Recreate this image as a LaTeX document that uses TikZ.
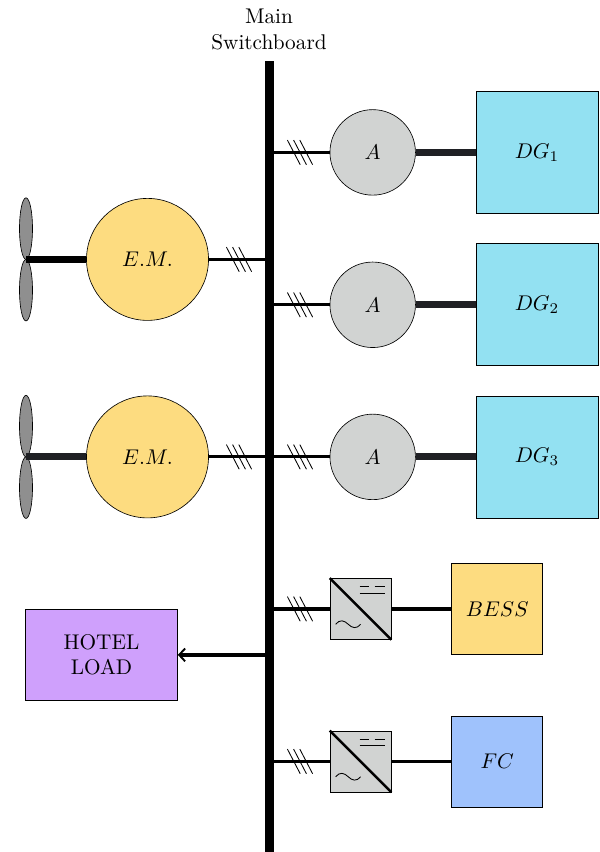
\documentclass[tikz,border=0pt]{standalone}
\usetikzlibrary{arrows.meta,shapes.geometric}
\definecolor{emyellow}{HTML}{FDDC80}
\definecolor{gengray}{HTML}{D1D3D2}
\definecolor{dgcyan}{HTML}{93E1F2}
\definecolor{hotel}{HTML}{CFA0FC}
\definecolor{fcblue}{HTML}{9FC2FC}
\definecolor{propgray}{HTML}{8F8F8F}
\definecolor{shaft}{HTML}{1F2024}
\newcommand{\hatchmark}[1]{%
  \foreach \d in {-6.2,0,6.2}
    \draw[hatchline] ([xshift={(\d-6.4)*0.47pt},yshift=12.3*0.47pt]#1) -- ([xshift={(\d+6.4)*0.47pt},yshift=-12.3*0.47pt]#1);}
\newcommand{\convsym}[1]{%
  \draw[line width=1.2pt] (#1.north west) -- (#1.south east);
  \draw[hatchline] ([xshift=30*0.47pt,yshift=-8.5*0.47pt]#1.north west) -- ++(9,0);
  \draw[hatchline] ([xshift=45*0.47pt,yshift=-8.5*0.47pt]#1.north west) -- ++(10,0);
  \draw[hatchline] ([xshift=30*0.47pt,yshift=-15*0.47pt]#1.north west) -- ++(25,0);
  \draw[hatchline] ([xshift=6*0.47pt,yshift=15.5*0.47pt]#1.south west) .. controls +(4,-5) and +(-4,-4) .. ++(12.5,0) .. controls +(4,4) and +(-4,5) .. ++(12.5,0);
}
\tikzset{
  x=0.47pt,y=-0.47pt,
  hatchline/.style={draw=black,line width=0.4pt},
  feeder/.style={draw=black,line width=1.5pt},
  shaftblack/.style={draw=black,line width=3.3pt},
  shaftdark/.style={draw=shaft,line width=3.3pt},
  busbar/.style={rectangle,fill=black,inner sep=0pt,minimum width=9*0.47pt,minimum height=791*0.47pt},
  motor/.style={circle,draw=black,line width=0.3pt,fill=emyellow,inner sep=0pt,minimum size=122*0.47pt},
  gen/.style={circle,draw=black,line width=0.3pt,fill=gengray,inner sep=0pt,minimum size=85.5*0.47pt},
  dg/.style={rectangle,draw=black,line width=0.3pt,fill=dgcyan,inner sep=0pt,minimum size=122*0.47pt},
  conv/.style={rectangle,draw=black,line width=0.3pt,fill=gengray,inner sep=0pt,minimum size=61*0.47pt},
  store/.style={rectangle,draw=black,line width=0.3pt,inner sep=0pt,minimum size=91*0.47pt},
  blade/.style={ellipse,draw=black,line width=0.3pt,fill=propgray,inner sep=0pt,minimum width=13*0.47pt,minimum height=61.5*0.47pt},
  hotelbox/.style={rectangle,draw=black,line width=0.3pt,fill=hotel,inner sep=0pt,minimum width=152*0.47pt,minimum height=91*0.47pt,align=center},
}
\begin{document}
\begin{tikzpicture}
\useasboundingbox (0,0) rectangle (599,852);
\node[busbar] (bus) at (269.5,456.5) {};
\node[align=center] (title) at (269,29.5) {Main\\Switchboard};

\node[gen] (A1) at (372.7,152.4) {$A$};
\node[gen] (A2) at (372.7,304.8) {$A$};
\node[gen] (A3) at (372.7,456.9) {$A$};
\node[dg] (D1) at (537,152.4) {$DG_1$};
\node[dg] (D2) at (537,304.8) {$DG_2$};
\node[dg] (D3) at (537,456.9) {$DG_3$};
\node[motor] (M1) at (147.5,259.4) {$E.M.$};
\node[motor] (M2) at (147.5,456.9) {$E.M.$};
\node[blade] (P1a) at (26,228.6) {};
\node[blade] (P1b) at (26,290.2) {};
\node[blade] (P2a) at (26,426.1) {};
\node[blade] (P2b) at (26,487.7) {};
\coordinate (H1) at (26,259.4);
\coordinate (H2) at (26,456.9);
\node[conv] (C1) at (360.5,608.9) {};
\node[conv] (C2) at (360.5,761.4) {};
\node[store,fill=emyellow] (B) at (497.2,608.9) {$BESS$};
\node[store,fill=fcblue] (F) at (497.2,761.4) {$FC$};
\node[hotelbox] (L) at (101.5,654.9) {HOTEL\\LOAD};
\coordinate (hr) at (300,0);
\coordinate (hl) at (239,0);

\foreach \g/\d in {A1/D1,A2/D2,A3/D3}
  \draw[shaftdark] (\g.east) -- (\d.west);
\draw[shaftblack] (H1) -- (M1.west);
\draw[shaftdark] (H2) -- (M2.west);
\foreach \g in {A1,A2,A3,C1,C2}
  \draw[feeder] (bus.east |- \g.west) -- (\g.west);
\foreach \g in {M1,M2}
  \draw[feeder] (\g.east) -- (bus.west |- \g.east);
\draw[feeder] (C1.east) -- (B.west);
\draw[feeder] (C2.east) -- (F.west);
\draw[feeder,-{Straight Barb[length=2.8pt,width=6pt,line width=0.9pt]}] (bus.west |- L.east) -- (L.east);

\foreach \g in {A1,A2,A3,C1,C2}{
  \coordinate (t) at (hr |- \g.west);
  \hatchmark{t}
}
\foreach \g in {M1,M2}{
  \coordinate (t) at (hl |- \g.east);
  \hatchmark{t}
}
\convsym{C1}
\convsym{C2}
\end{tikzpicture}
\end{document}
